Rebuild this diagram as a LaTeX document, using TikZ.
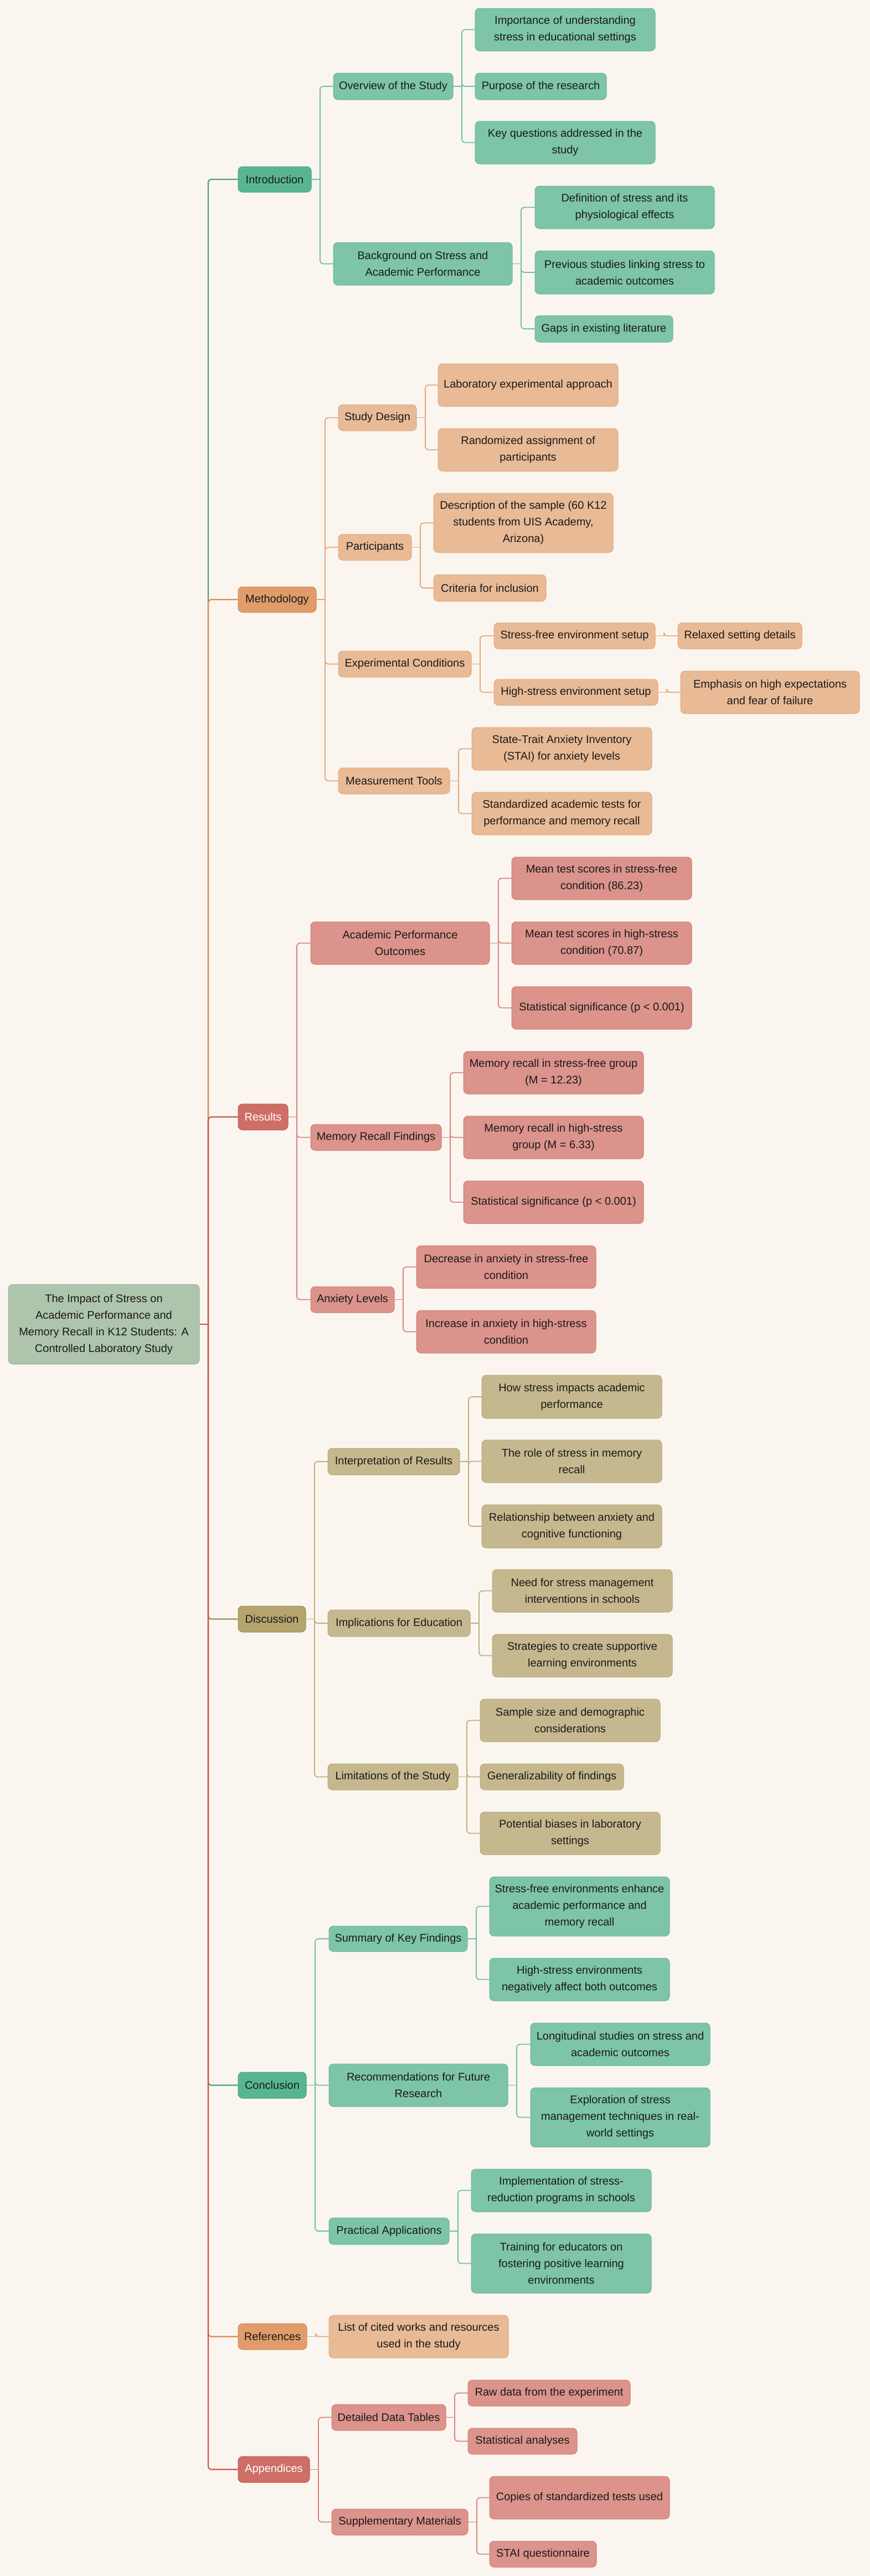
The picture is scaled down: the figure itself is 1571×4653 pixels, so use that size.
\documentclass[tikz,border=0pt]{standalone}
\usepackage{fontspec}
\setmainfont{Liberation Sans}
\usetikzlibrary{calc,backgrounds}
\definecolor{bgc}{HTML}{FAF6EF}
\definecolor{rootf}{HTML}{AEC4AC}\definecolor{rootd}{HTML}{9DB79A}
\definecolor{gAf}{HTML}{58B592}\definecolor{gAd}{HTML}{48A080}\definecolor{gL1}{HTML}{4E9E80}
\definecolor{gBf}{HTML}{7DC4A9}\definecolor{gBd}{HTML}{6AB898}\definecolor{gL2}{HTML}{6CBF9F}
\definecolor{oAf}{HTML}{E09C6A}\definecolor{oAd}{HTML}{D08A56}\definecolor{oL1}{HTML}{D98B50}
\definecolor{oBf}{HTML}{E8BA96}\definecolor{oBd}{HTML}{E2A880}\definecolor{oL2}{HTML}{E4A676}
\definecolor{rAf}{HTML}{CE6E66}\definecolor{rAd}{HTML}{BE5E55}\definecolor{rL1}{HTML}{C8574C}
\definecolor{rBf}{HTML}{DB938B}\definecolor{rBd}{HTML}{D27F77}\definecolor{rL2}{HTML}{D9827A}
\definecolor{yAf}{HTML}{B5A46D}\definecolor{yAd}{HTML}{A0905A}\definecolor{yL1}{HTML}{9E8C58}
\definecolor{yBf}{HTML}{C6B88E}\definecolor{yBd}{HTML}{B9A87A}\definecolor{yL2}{HTML}{BFAE7E}
\definecolor{txt}{HTML}{1A1A1A}
\tikzset{
  box/.style={rectangle, rounded corners=8pt, inner sep=0pt, align=center, line width=1pt,
    text=txt, font=\fontsize{20}{30}\selectfont},
  rootbox/.style={box, fill=rootf, draw=rootd},
  gA/.style={box, fill=gAf, draw=gAd}, gB/.style={box, fill=gBf, draw=gBd},
  oA/.style={box, fill=oAf, draw=oAd}, oB/.style={box, fill=oBf, draw=oBd},
  rA/.style={box, fill=rAf, draw=rAd, text=white}, rB/.style={box, fill=rBf, draw=rBd},
  yA/.style={box, fill=yAf, draw=yAd}, yB/.style={box, fill=yBf, draw=yBd},
  lkA/.style={line width=2.2pt},
  lkB/.style={line width=1.8pt},
}
\newcommand\bx[7]{\node[#6, minimum width={(#4-#2)*1pt}, minimum height={(#5-#3)*1pt}] (#1) at ({(#2+#4)/2},{(#3+#5)/2}) {#7};}
\newcommand\lnk[4]{%
  \draw[#3,#4] (#1.east) -- ($(#1.east)+(15.5,0)$);
  \draw[#3,#4,rounded corners=6pt] ($(#1.east)+(15.5,0)$) |- (#2.west);}
\begin{document}
\begin{tikzpicture}[x=1pt,y=-1pt]
\useasboundingbox (0,0) rectangle (1571,4653);
% root
\bx{root}{15}{2320}{360}{2464}{rootbox}{The Impact of Stress on\\Academic Performance and\\Memory Recall in K12 Students: A\\Controlled Laboratory Study}
% Introduction
\bx{intro}{430}{301}{562}{347}{gA}{Introduction}
\bx{over}{602}{132}{818}{180}{gB}{Overview of the Study}
\bx{imp}{858}{15}{1183}{92}{gB}{Importance of understanding\\stress in educational settings}
\bx{purp}{858}{132}{1095}{180}{gB}{Purpose of the research}
\bx{keyq}{858}{219}{1183}{296}{gB}{Key questions addressed in the\\study}
\bx{back}{602}{438}{925}{515}{gB}{Background on Stress and\\Academic Performance}
\bx{defi}{966}{336}{1290}{413}{gB}{Definition of stress and its\\physiological effects}
\bx{prev}{966}{453}{1290}{531}{gB}{Previous studies linking stress to\\academic outcomes}
\bx{gaps}{966}{570}{1215}{618}{gB}{Gaps in existing literature}
% Methodology
\bx{meth}{430}{1060}{571}{1106}{oA}{Methodology}
\bx{sdes}{611}{731}{752}{778}{oB}{Study Design}
\bx{lab}{791}{657}{1116}{734}{oB}{Laboratory experimental approach}
\bx{rand}{791}{774}{1116}{851}{oB}{Randomized assignment of\\participants}
\bx{part}{611}{965}{743}{1012}{oB}{Participants}
\bx{desc}{783}{891}{1107}{998}{oB}{Description of the sample (60 K12\\students from UIS Academy,\\Arizona)}
\bx{crit}{783}{1038}{986}{1086}{oB}{Criteria for inclusion}
\bx{expc}{611}{1176}{851}{1223}{oB}{Experimental Conditions}
\bx{sfe}{892}{1125}{1183}{1172}{oB}{Stress-free environment setup}
\bx{relx}{1224}{1125}{1448}{1172}{oB}{Relaxed setting details}
\bx{hse}{892}{1227}{1188}{1274}{oB}{High-stress environment setup}
\bx{emph}{1229}{1212}{1552}{1289}{oB}{Emphasis on high expectations\\and fear of failure}
\bx{meas}{611}{1387}{812}{1434}{oB}{Measurement Tools}
\bx{stai}{852}{1314}{1177}{1391}{oB}{State-Trait Anxiety Inventory\\(STAI) for anxiety levels}
\bx{stdt}{852}{1431}{1177}{1508}{oB}{Standardized academic tests for\\performance and memory recall}
% Results
\bx{res}{430}{1994}{520}{2041}{rA}{Results}
\bx{apo}{561}{1665}{884}{1742}{rB}{Academic Performance\\Outcomes}
\bx{mean1}{924}{1548}{1249}{1625}{rB}{Mean test scores in stress-free\\condition (86.23)}
\bx{mean2}{924}{1665}{1249}{1742}{rB}{Mean test scores in high-stress\\condition (70.87)}
\bx{stat1}{924}{1782}{1249}{1859}{rB}{Statistical significance (p < 0.001)}
\bx{mrf}{561}{2031}{797}{2078}{rB}{Memory Recall Findings}
\bx{mem1}{837}{1899}{1162}{1976}{rB}{Memory recall in stress-free group\\(M = 12.23)}
\bx{mem2}{837}{2016}{1162}{2093}{rB}{Memory recall in high-stress\\group (M = 6.33)}
\bx{stat2}{837}{2133}{1162}{2210}{rB}{Statistical significance (p < 0.001)}
\bx{anx}{561}{2324}{712}{2371}{rB}{Anxiety Levels}
\bx{decr}{752}{2250}{1076}{2327}{rB}{Decrease in anxiety in stress-free\\condition}
\bx{incr}{752}{2367}{1076}{2444}{rB}{Increase in anxiety in high-stress\\condition}
% Discussion
\bx{disc}{430}{2901}{552}{2948}{yA}{Discussion}
\bx{interp}{592}{2616}{830}{2664}{yB}{Interpretation of Results}
\bx{how}{870}{2484}{1195}{2562}{yB}{How stress impacts academic\\performance}
\bx{role}{870}{2601}{1195}{2678}{yB}{The role of stress in memory\\recall}
\bx{rela}{870}{2718}{1195}{2796}{yB}{Relationship between anxiety and\\cognitive functioning}
\bx{impl}{592}{2908}{849}{2956}{yB}{Implications for Education}
\bx{need}{889}{2835}{1214}{2912}{yB}{Need for stress management\\interventions in schools}
\bx{strat}{889}{2952}{1214}{3029}{yB}{Strategies to create supportive\\learning environments}
\bx{limi}{592}{3186}{827}{3233}{yB}{Limitations of the Study}
\bx{samp}{867}{3069}{1192}{3146}{yB}{Sample size and demographic\\considerations}
\bx{gene}{867}{3186}{1126}{3233}{yB}{Generalizability of findings}
\bx{pote}{867}{3273}{1192}{3350}{yB}{Potential biases in laboratory\\settings}
% Conclusion
\bx{conc}{430}{3743}{553}{3790}{gA}{Conclusion}
\bx{summ}{594}{3479}{844}{3525}{gB}{Summary of Key Findings}
\bx{sfen}{884}{3390}{1209}{3497}{gB}{Stress-free environments enhance\\academic performance and\\memory recall}
\bx{hsen}{884}{3537}{1209}{3614}{gB}{High-stress environments\\negatively affect both outcomes}
\bx{recs}{594}{3728}{917}{3805}{gB}{Recommendations for Future\\Research}
\bx{long}{958}{3654}{1282}{3731}{gB}{Longitudinal studies on stress and\\academic outcomes}
\bx{expl}{958}{3771}{1282}{3878}{gB}{Exploration of stress\\management techniques in real-\\world settings}
\bx{prac}{594}{4006}{811}{4054}{gB}{Practical Applications}
\bx{implm}{851}{3918}{1176}{3995}{gB}{Implementation of stress-\\reduction programs in schools}
\bx{train}{851}{4035}{1176}{4142}{gB}{Training for educators on\\fostering positive learning\\environments}
% References
\bx{refs}{430}{4197}{554}{4244}{oA}{References}
\bx{list}{594}{4182}{918}{4259}{oB}{List of cited works and resources\\used in the study}
% Appendices
\bx{appx}{430}{4437}{559}{4484}{rA}{Appendices}
\bx{ddt}{599}{4343}{805}{4390}{rB}{Detailed Data Tables}
\bx{raw}{845}{4299}{1138}{4346}{rB}{Raw data from the experiment}
\bx{stata}{845}{4386}{1042}{4433}{rB}{Statistical analyses}
\bx{supp}{599}{4532}{845}{4579}{rB}{Supplementary Materials}
\bx{copy}{884}{4473}{1209}{4550}{rB}{Copies of standardized tests used}
\bx{staiq}{884}{4590}{1077}{4637}{rB}{STAI questionnaire}
\begin{pgfonlayer}{background}
\fill[bgc] (0,0) rectangle (1571,4653);
% second-level links
\lnk{intro}{over}{lkB}{gL2}\lnk{intro}{back}{lkB}{gL2}
\lnk{over}{imp}{lkB}{gL2}\lnk{over}{purp}{lkB}{gL2}\lnk{over}{keyq}{lkB}{gL2}
\lnk{back}{defi}{lkB}{gL2}\lnk{back}{prev}{lkB}{gL2}\lnk{back}{gaps}{lkB}{gL2}
\lnk{meth}{sdes}{lkB}{oL2}\lnk{meth}{part}{lkB}{oL2}\lnk{meth}{expc}{lkB}{oL2}\lnk{meth}{meas}{lkB}{oL2}
\lnk{sdes}{lab}{lkB}{oL2}\lnk{sdes}{rand}{lkB}{oL2}
\lnk{part}{desc}{lkB}{oL2}\lnk{part}{crit}{lkB}{oL2}
\lnk{expc}{sfe}{lkB}{oL2}\lnk{expc}{hse}{lkB}{oL2}
\lnk{sfe}{relx}{lkB}{oL2}\lnk{hse}{emph}{lkB}{oL2}
\lnk{meas}{stai}{lkB}{oL2}\lnk{meas}{stdt}{lkB}{oL2}
\lnk{res}{apo}{lkB}{rL2}\lnk{res}{mrf}{lkB}{rL2}\lnk{res}{anx}{lkB}{rL2}
\lnk{apo}{mean1}{lkB}{rL2}\lnk{apo}{mean2}{lkB}{rL2}\lnk{apo}{stat1}{lkB}{rL2}
\lnk{mrf}{mem1}{lkB}{rL2}\lnk{mrf}{mem2}{lkB}{rL2}\lnk{mrf}{stat2}{lkB}{rL2}
\lnk{anx}{decr}{lkB}{rL2}\lnk{anx}{incr}{lkB}{rL2}
\lnk{disc}{interp}{lkB}{yL2}\lnk{disc}{impl}{lkB}{yL2}\lnk{disc}{limi}{lkB}{yL2}
\lnk{interp}{how}{lkB}{yL2}\lnk{interp}{role}{lkB}{yL2}\lnk{interp}{rela}{lkB}{yL2}
\lnk{impl}{need}{lkB}{yL2}\lnk{impl}{strat}{lkB}{yL2}
\lnk{limi}{samp}{lkB}{yL2}\lnk{limi}{gene}{lkB}{yL2}\lnk{limi}{pote}{lkB}{yL2}
\lnk{conc}{summ}{lkB}{gL2}\lnk{conc}{recs}{lkB}{gL2}\lnk{conc}{prac}{lkB}{gL2}
\lnk{summ}{sfen}{lkB}{gL2}\lnk{summ}{hsen}{lkB}{gL2}
\lnk{recs}{long}{lkB}{gL2}\lnk{recs}{expl}{lkB}{gL2}
\lnk{prac}{implm}{lkB}{gL2}\lnk{prac}{train}{lkB}{gL2}
\lnk{refs}{list}{lkB}{oL2}
\lnk{appx}{ddt}{lkB}{rL2}\lnk{appx}{supp}{lkB}{rL2}
\lnk{ddt}{raw}{lkB}{rL2}\lnk{ddt}{stata}{lkB}{rL2}
\lnk{supp}{copy}{lkB}{rL2}\lnk{supp}{staiq}{lkB}{rL2}
% trunk links (order sets overlap colours)
\lnk{root}{intro}{lkA}{gL1}
\lnk{root}{meth}{lkA}{oL1}
\lnk{root}{res}{lkA}{rL1}
\lnk{root}{disc}{lkA}{yL1}
\lnk{root}{conc}{lkA}{gL1}
\lnk{root}{refs}{lkA}{oL1}
\lnk{root}{appx}{lkA}{rL1}
\end{pgfonlayer}
\end{tikzpicture}
\end{document}
